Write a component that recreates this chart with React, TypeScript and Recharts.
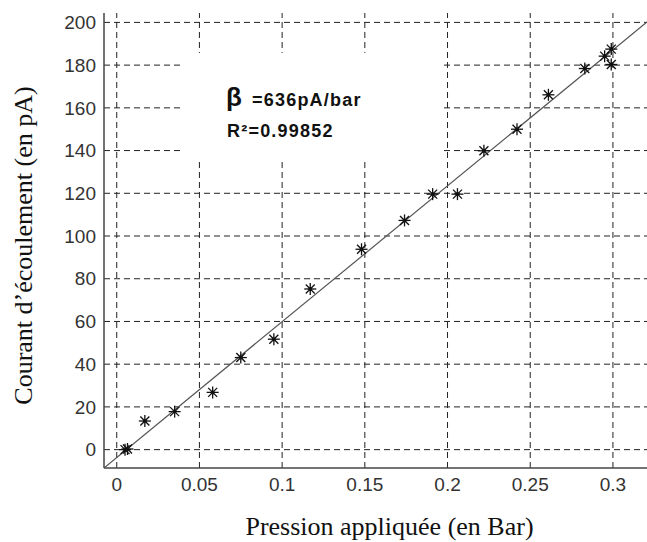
import React from "react";
import { ComposedChart, Scatter, XAxis, YAxis, ReferenceLine, ReferenceArea } from "recharts";

// measured points (pressure in bar, current in pA)
const pressure = [0.005, 0.0065, 0.017, 0.035, 0.058, 0.075, 0.095, 0.117, 0.148, 0.174, 0.191, 0.206, 0.222, 0.242, 0.261, 0.283, 0.295, 0.299, 0.299];
const current = [0, 0.3, 13.4, 17.8, 26.8, 43.1, 51.7, 75.2, 93.8, 107.3, 119.6, 119.6, 139.9, 150, 166.1, 178.4, 184.2, 187.5, 180.3];

// linear fit end points
const fitPressure = [-0.0077, 0.3206];
const fitCurrent = [-8.6, 200.2];

const xTicks = [0, 0.05, 0.1, 0.15, 0.2, 0.25, 0.3];
const yTicks = [0, 20, 40, 60, 80, 100, 120, 140, 160, 180, 200];

const points = pressure.map((x, i) => ({ x, y: current[i] }));
const fit = fitPressure.map((x, i) => ({ x, y: fitCurrent[i] }));

const sans = "'Liberation Sans', Arial, sans-serif";
const serif = "'Liberation Serif', 'Times New Roman', serif";

function Star(props: any) {
  const { cx, cy } = props;
  const r = 6;
  const d = r * 0.75;
  return (
    <g stroke="#111" strokeWidth={1.3}>
      <line x1={cx} y1={cy - r} x2={cx} y2={cy + r} />
      <line x1={cx - r} y1={cy} x2={cx + r} y2={cy} />
      <line x1={cx - d} y1={cy - d} x2={cx + d} y2={cy + d} />
      <line x1={cx - d} y1={cy + d} x2={cx + d} y2={cy - d} />
      <circle cx={cx} cy={cy} r={2} fill="#111" stroke="none" />
    </g>
  );
}

function Annotation(props: any) {
  const { x, y, width, height } = props;
  return (
    <g>
      <rect x={x} y={y} width={width} height={height} fill="#fff" />
      <text x={x + 43} y={y + 53} fontFamily={sans} fontWeight="bold" fontSize={26} fill="#111">β</text>
      <text x={x + 69} y={y + 53} fontFamily={sans} fontWeight="bold" fontSize={18} letterSpacing={1.2} fill="#111">=636pA/bar</text>
      <text x={x + 44} y={y + 84} fontFamily={sans} fontWeight="bold" fontSize={18} letterSpacing={1.2} fill="#111">R²=0.99852</text>
    </g>
  );
}

const gridStyle = { stroke: "#222", strokeWidth: 1, strokeDasharray: "6 4" };

export default function App() {
  return (
    <div style={{ position: "absolute", left: 0, top: 0, width: 647, height: 542, background: "#fff" }}>
      <ComposedChart width={647} height={542} margin={{ top: 13, right: 0, bottom: 0, left: 0 }}>
        {/* dashed grid at the tick values only */}
        {yTicks.map((v) => (
          <ReferenceLine key={`h${v}`} y={v} zIndex={-50} {...gridStyle} />
        ))}
        {xTicks.map((v) => (
          <ReferenceLine key={`v${v}`} x={v} zIndex={-50} {...gridStyle} />
        ))}
        <XAxis
          type="number"
          dataKey="x"
          domain={[-0.0077, 0.3206]}
          ticks={xTicks}
          allowDataOverflow
          height={74}
          tickLine={false}
          tickMargin={4}
          axisLine={{ stroke: "#444", strokeWidth: 1.5 }}
          tick={{ fill: "#333", fontSize: 19, fontFamily: sans }}
          label={{
            content: (p: any) => {
              const vb = p.viewBox;
              return (
                <text x={vb.x + vb.width / 2 + 14} y={vb.y + 67} textAnchor="middle" fontFamily={serif} fontSize={26} fill="#111">
                  Pression appliquée (en Bar)
                </text>
              );
            },
          }}
        />
        <YAxis
          type="number"
          dataKey="y"
          domain={[-8.6, 204.4]}
          ticks={yTicks}
          allowDataOverflow
          width={104}
          tickLine={false}
          axisLine={{ stroke: "#444", strokeWidth: 1.5 }}
          tick={{ fill: "#333", fontSize: 19, fontFamily: sans }}
          label={{
            content: (p: any) => {
              const vb = p.viewBox;
              const cx = vb.x + 26;
              const cy = vb.y + vb.height / 2 + 5;
              return (
                <text x={cx} y={cy} transform={`rotate(-90 ${cx} ${cy})`} textAnchor="middle" dominantBaseline="middle" fontFamily={serif} fontSize={26} fill="#111">
                  Courant d’écoulement (en pA)
                </text>
              );
            },
          }}
        />
        <ReferenceArea x1={0.0401} x2={0.1967} y1={136.4} y2={185.7} zIndex={450} shape={Annotation} />
        <Scatter data={fit} line={{ stroke: "#555", strokeWidth: 1.2 }} shape={() => <g />} isAnimationActive={false} />
        <Scatter data={points} shape={Star} isAnimationActive={false} />
      </ComposedChart>
    </div>
  );
}
